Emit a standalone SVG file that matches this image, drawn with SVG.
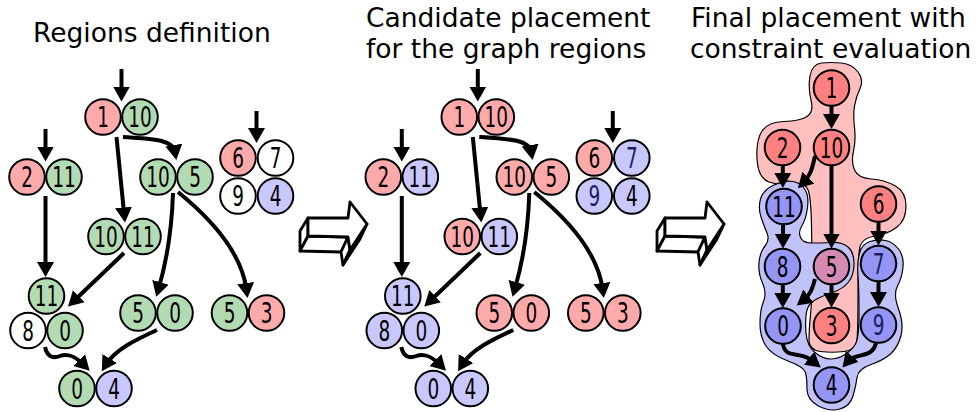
<svg xmlns="http://www.w3.org/2000/svg" xmlns:xlink="http://www.w3.org/1999/xlink" width="977" height="412" viewBox="0 0 977 412">
<style>
.t{font-family:"DejaVu Sans","Liberation Sans",sans-serif;font-size:26.5px;fill:#000}
.n circle{stroke:#000;stroke-width:2}
.n text{font-family:"DejaVu Sans Condensed","DejaVu Sans",sans-serif;font-stretch:condensed;font-size:28.5px;text-anchor:middle;fill:#000;transform:scale(0.72,1)}
.n text.nv{fill:#1c1c64}
.pk{fill:#ffaaaa}.gr{fill:#b3dbb3}.bl{fill:#c8c8ff}.wh{fill:#fff}
.rd{fill:#ff8080}.bb{fill:#9595f5}.pu{fill:#d48ab2}
.e{fill:none;stroke:#000;stroke-width:4;marker-end:url(#ah)}
.blob{stroke:#000;stroke-width:1.2}
.ba polygon{fill:#fff;stroke:#000;stroke-width:2.8;stroke-linejoin:round}
</style>
<defs>
<marker id="ah" markerUnits="userSpaceOnUse" markerWidth="16" markerHeight="18" viewBox="0 0 16 18" refX="7" refY="9" orient="auto">
<path d="M0,0.5 L15,9 L0,17.5 Z" fill="#000"/>
</marker>
<g id="bigarrow" class="ba">
<polygon points="308,218 308,236 300,251 300,231"/>
<polygon points="308,236 348,237 341,252 300,251"/>
<polygon points="348,237 350,250 343,265 341,252"/>
<polygon points="350,250 367,224 360,239 343,265"/>
<polygon points="308,218 348,218 350,202 367,224 350,250 348,237 308,236"/>
</g>
</defs>
<rect width="977" height="412" fill="#fff"/>

<g id="titles">
<text class="t" x="33" y="42">Regions definition</text>
<text class="t" x="366" y="27">Candidate placement</text>
<text class="t" x="366" y="58">for the graph regions</text>
<text class="t" x="691" y="27">Final placement with</text>
<text class="t" x="690" y="58">constraint evaluation</text>
</g>

<g id="transition-arrows">
<use href="#bigarrow"/>
<use href="#bigarrow" transform="translate(357,0)"/>
</g>

<!-- Right panel region blobs -->
<g id="region-blobs">
<path id="blob-red" class="blob" fill="#ffbfbf" d="M821.5,63 Q831,62 841.5,63 Q852,64 858,72 Q864,80 860,88.5 Q856,97 854.5,106 Q853,115 854.5,127.5 Q856,140 853.5,151 Q851,162 854.5,170 Q858,178 871.5,179 Q885,180 895.5,186 Q906,192 906,206 Q906,220 897,227 Q888,234 875,236 Q862,238 860,246.5 Q858,255 858,292.5 Q858,330 857,340 Q856,350 844,351.5 Q832,353 820.5,351.5 Q809,350 809,340 Q809,330 810.5,315 Q812,300 812,275 Q812,250 811.5,225 Q811,200 808.5,191 Q806,182 793,184 Q780,186 769,182 Q758,178 757,159 Q756,140 762,131 Q768,122 784,121.5 Q800,121 807,116.5 Q814,112 811,100 Q808,88 810,76 Q812,64 821.5,63 Z"/>
<path id="blob-blue" class="blob" fill="#c2c2fa" d="M774,185 Q785,180 793,181.5 Q801,183 805,189.5 Q809,196 807.5,207.5 Q806,219 802,225.5 Q798,232 800.5,237.5 Q803,243 811.5,243 Q820,243 831,242.5 Q842,242 848,247 Q854,252 854,263.5 Q854,275 848.5,282 Q843,289 832.5,292.5 Q822,296 815,300 Q808,304 806.5,312 Q805,320 806,333 Q807,346 815,352.5 Q823,359 830.5,359 Q838,359 845,354.5 Q852,350 855.5,344 Q859,338 859,314 Q859,290 858,276 Q857,262 859.5,253 Q862,244 870,241.5 Q878,239 885.5,240.5 Q893,242 898.5,249 Q904,256 903,267 Q902,278 897.5,286 Q893,294 898.5,309 Q904,324 901,335.5 Q898,347 891,353.5 Q884,360 871,364.5 Q858,369 857,377.5 Q856,386 853,396 Q850,406 840,409 Q830,412 818.5,406 Q807,400 807,389 Q807,378 805.5,372.5 Q804,367 788,361 Q772,355 766,346 Q760,337 760,323.5 Q760,310 763.5,301.5 Q767,293 762.5,283 Q758,273 759,262.5 Q760,252 765,246 Q770,240 767,233 Q764,226 761,217 Q758,208 760.5,199 Q763,190 774,185 Z"/>
</g>

<g id="connectors">
<g id="edges-left">
<path class="e" d="M121.5,69 V93.5"/>
<path class="e" d="M45.5,129 V153.5"/>
<path class="e" d="M256.5,111 V135"/>
<path class="e" d="M116.5,137 L124.2,214.5"/>
<path class="e" d="M123,137 C155,139 173,140 175,152"/>
<path class="e" d="M45.5,196 V269"/>
<path class="e" d="M124,253 L73.8,301"/>
<path class="e" d="M173,193 C172,225 167,260 158.5,289"/>
<path class="e" d="M178,192 C215,222 242,255 246.5,290"/>
<path class="e" d="M45,347 C47,356 52,359 60,356 C68,353 75,356 84,365"/>
<path class="e" d="M157,330 C135,340 115,350 106,364.5"/>
</g>
<g id="edges-middle" transform="translate(356.3,0)">
<path class="e" d="M121.5,69 V93.5"/>
<path class="e" d="M45.5,129 V153.5"/>
<path class="e" d="M256.5,111 V135"/>
<path class="e" d="M116.5,137 L124.2,214.5"/>
<path class="e" d="M123,137 C155,139 173,140 175,152"/>
<path class="e" d="M45.5,196 V269"/>
<path class="e" d="M124,253 L73.8,301"/>
<path class="e" d="M173,193 C172,225 167,260 158.5,289"/>
<path class="e" d="M178,192 C215,222 242,255 246.5,290"/>
<path class="e" d="M45,347 C47,356 52,359 60,356 C68,353 75,356 84,365"/>
<path class="e" d="M157,330 C135,340 115,350 106,364.5"/>
</g>
<g id="edges-right">
<path class="e" d="M831.5,106 V121"/>
<path class="e" d="M782.8,165.5 V180"/>
<path class="e" d="M815,156 C812,170 810,176 803.5,182.5"/>
<path class="e" d="M831.5,165.5 V240.5"/>
<path class="e" d="M878.5,222 V237.5"/>
<path class="e" d="M783,224.5 V240.5"/>
<path class="e" d="M782.8,284.5 V300"/>
<path class="e" d="M815,279 C812,290 810,295 803,300.5"/>
<path class="e" d="M831.5,284.5 V299.5"/>
<path class="e" d="M878.5,281.5 V299"/>
<path class="e" d="M783,344 C785,358 797,352 808,358 C810,359 812,360.5 814.5,362.5"/>
<path class="e" d="M876,343 C873,356 862,354 852,358 C850,359 849,360 847.7,361.5"/>
</g>
</g>

<!-- Left panel: regions definition -->
<g id="panel-left">
<g id="L-r1-10"><g id="L-n1" class="n" transform="translate(103,117)"><circle class="pk" r="17.8"/><text y="10.3">1</text></g><g id="L-n10a" class="n" transform="translate(140,117)"><circle class="gr" r="17.8"/><text y="10.3">10</text></g></g>
<g id="L-r2-11"><g id="L-n2" class="n" transform="translate(27,177)"><circle class="pk" r="17.8"/><text y="10.3">2</text></g><g id="L-n11a" class="n" transform="translate(64,177)"><circle class="gr" r="17.8"/><text y="10.3">11</text></g></g>
<g id="L-r10-5"><g id="L-n10b" class="n" transform="translate(158,177)"><circle class="gr" r="17.8"/><text y="10.3">10</text></g><g id="L-n5a" class="n" transform="translate(195,177)"><circle class="gr" r="17.8"/><text y="10.3">5</text></g></g>
<g id="L-r6-7-9-4"><g id="L-n6" class="n" transform="translate(238,158)"><circle class="pk" r="17.8"/><text y="10.3">6</text></g><g id="L-n7" class="n" transform="translate(275.5,158)"><circle class="wh" r="17.8"/><text y="10.3">7</text></g><g id="L-n9" class="n" transform="translate(238,196)"><circle class="wh" r="17.8"/><text y="10.3">9</text></g><g id="L-n4a" class="n" transform="translate(275.5,196)"><circle class="bl" r="17.8"/><text y="10.3">4</text></g></g>
<g id="L-r10-11"><g id="L-n10c" class="n" transform="translate(106,236.5)"><circle class="gr" r="17.8"/><text y="10.3">10</text></g><g id="L-n11b" class="n" transform="translate(143,236.5)"><circle class="gr" r="17.8"/><text y="10.3">11</text></g></g>
<g id="L-r11-8-0"><g id="L-n11c" class="n" transform="translate(46.5,296)"><circle class="gr" r="17.8"/><text y="10.3">11</text></g><g id="L-n8" class="n" transform="translate(28,330.5)"><circle class="wh" r="17.8"/><text y="10.3">8</text></g><g id="L-n0a" class="n" transform="translate(65,330.5)"><circle class="gr" r="17.8"/><text y="10.3">0</text></g></g>
<g id="L-r5-0"><g id="L-n5b" class="n" transform="translate(138,313)"><circle class="gr" r="17.8"/><text y="10.3">5</text></g><g id="L-n0b" class="n" transform="translate(175,313)"><circle class="gr" r="17.8"/><text y="10.3">0</text></g></g>
<g id="L-r5-3"><g id="L-n5c" class="n" transform="translate(229.5,313)"><circle class="gr" r="17.8"/><text y="10.3">5</text></g><g id="L-n3" class="n" transform="translate(266.5,313)"><circle class="pk" r="17.8"/><text y="10.3">3</text></g></g>
<g id="L-r0-4"><g id="L-n0c" class="n" transform="translate(77,388.5)"><circle class="gr" r="17.8"/><text y="10.3">0</text></g><g id="L-n4b" class="n" transform="translate(114,388.5)"><circle class="bl" r="17.8"/><text y="10.3">4</text></g></g>
</g>

<!-- Middle panel: candidate placement -->
<g id="panel-middle" transform="translate(356.3,0)">
<g id="M-r1-10"><g id="M-n1" class="n" transform="translate(103,117)"><circle class="pk" r="17.8"/><text y="10.3">1</text></g><g id="M-n10a" class="n" transform="translate(140,117)"><circle class="pk" r="17.8"/><text y="10.3">10</text></g></g>
<g id="M-r2-11"><g id="M-n2" class="n" transform="translate(27,177)"><circle class="pk" r="17.8"/><text y="10.3">2</text></g><g id="M-n11a" class="n" transform="translate(64,177)"><circle class="bl" r="17.8"/><text y="10.3">11</text></g></g>
<g id="M-r10-5"><g id="M-n10b" class="n" transform="translate(158,177)"><circle class="pk" r="17.8"/><text y="10.3">10</text></g><g id="M-n5a" class="n" transform="translate(195,177)"><circle class="pk" r="17.8"/><text y="10.3">5</text></g></g>
<g id="M-r6-7-9-4"><g id="M-n6" class="n" transform="translate(238,158)"><circle class="pk" r="17.8"/><text y="10.3">6</text></g><g id="M-n7" class="n" transform="translate(275.5,158)"><circle class="bl" r="17.8"/><text class="nv" y="10.3">7</text></g><g id="M-n9" class="n" transform="translate(238,196)"><circle class="bl" r="17.8"/><text class="nv" y="10.3">9</text></g><g id="M-n4a" class="n" transform="translate(275.5,196)"><circle class="bl" r="17.8"/><text y="10.3">4</text></g></g>
<g id="M-r10-11"><g id="M-n10c" class="n" transform="translate(106,236.5)"><circle class="pk" r="17.8"/><text y="10.3">10</text></g><g id="M-n11b" class="n" transform="translate(143,236.5)"><circle class="bl" r="17.8"/><text y="10.3">11</text></g></g>
<g id="M-r11-8-0"><g id="M-n11c" class="n" transform="translate(46.5,296)"><circle class="bl" r="17.8"/><text y="10.3">11</text></g><g id="M-n8" class="n" transform="translate(28,330.5)"><circle class="bl" r="17.8"/><text y="10.3">8</text></g><g id="M-n0a" class="n" transform="translate(65,330.5)"><circle class="bl" r="17.8"/><text y="10.3">0</text></g></g>
<g id="M-r5-0"><g id="M-n5b" class="n" transform="translate(138,313)"><circle class="pk" r="17.8"/><text y="10.3">5</text></g><g id="M-n0b" class="n" transform="translate(175,313)"><circle class="pk" r="17.8"/><text y="10.3">0</text></g></g>
<g id="M-r5-3"><g id="M-n5c" class="n" transform="translate(229.5,313)"><circle class="pk" r="17.8"/><text y="10.3">5</text></g><g id="M-n3" class="n" transform="translate(266.5,313)"><circle class="pk" r="17.8"/><text y="10.3">3</text></g></g>
<g id="M-r0-4"><g id="M-n0c" class="n" transform="translate(77,388.5)"><circle class="bl" r="17.8"/><text y="10.3">0</text></g><g id="M-n4b" class="n" transform="translate(114,388.5)"><circle class="bl" r="17.8"/><text y="10.3">4</text></g></g>
</g>

<!-- Right panel: final placement -->
<g id="panel-right">
<g id="R-n1" class="n" transform="translate(831.5,88)"><circle class="rd" r="17.8"/><text y="10.3">1</text></g>
<g id="R-n2" class="n" transform="translate(782.5,147.5)"><circle class="rd" r="17.8"/><text y="10.3">2</text></g>
<g id="R-n10" class="n" transform="translate(831.5,147.5)"><circle class="rd" r="17.8"/><text y="10.3">10</text></g>
<g id="R-n11" class="n" transform="translate(784,206.5)"><circle class="bb" r="17.8"/><text y="10.3">11</text></g>
<g id="R-n6" class="n" transform="translate(878.5,204)"><circle class="rd" r="17.8"/><text y="10.3">6</text></g>
<g id="R-n8" class="n" transform="translate(782.5,266.5)"><circle class="bb" r="17.8"/><text y="10.3">8</text></g>
<g id="R-n5" class="n" transform="translate(831.5,266.5)"><circle class="pu" r="17.8"/><text y="10.3">5</text></g>
<g id="R-n7" class="n" transform="translate(878.5,263.5)"><circle class="bb" r="17.8"/><text class="nv" y="10.3">7</text></g>
<g id="R-n0" class="n" transform="translate(783,326)"><circle class="bb" r="17.8"/><text y="10.3">0</text></g>
<g id="R-n3" class="n" transform="translate(831.5,325.5)"><circle class="rd" r="17.8"/><text y="10.3">3</text></g>
<g id="R-n9" class="n" transform="translate(878.5,325)"><circle class="bb" r="17.8"/><text class="nv" y="10.3">9</text></g>
<g id="R-n4" class="n" transform="translate(831.5,385)"><circle class="bb" r="17.8"/><text y="10.3">4</text></g>
</g>
</svg>
